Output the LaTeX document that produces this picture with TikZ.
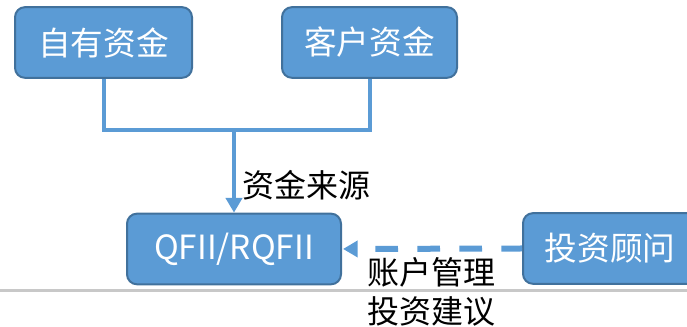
\documentclass[tikz,border=0pt]{standalone}
\usepackage{fontspec}
\setmainfont{Noto Sans CJK SC}
\usetikzlibrary{arrows.meta}
\definecolor{boxfill}{HTML}{5B9BD5}
\definecolor{boxedge}{HTML}{41719C}
\definecolor{rulegray}{HTML}{C8C8C8}
\begin{document}
\begin{tikzpicture}[x=0.75pt,y=-0.75pt,
  box/.style={draw=boxedge, line width=1.5pt, fill=boxfill, rounded corners=7.5pt,
    text=white, font=\fontsize{24.5}{29}\selectfont, inner sep=0pt, minimum height=53pt},
  conn/.style={draw=boxfill, line width=3pt, line join=miter},
  tip/.style={-{Triangle[length=11pt,width=12pt]}},
  lbl/.style={font=\fontsize{24}{29}\selectfont, inner sep=0pt, text=black}]
\useasboundingbox (0,0) rectangle (687,327);
\clip (0,0) rectangle (687,327);
\draw[rulegray, line width=2.25pt] (0,291) -- (687,291);
\node[box, minimum width=132.75pt] (A) at (103.5,42.5) {自有资金};
\node[box, minimum width=131.25pt] (B) at (369.5,42.5) {客户资金};
\node[box, minimum width=160.5pt, font=\fontsize{25}{30}\selectfont] (Q) at (234,249) {QFII/RQFII};
\node[box, minimum width=130.5pt] (V) at (610,248.5) {投资顾问};
\coordinate (J) at (234,130);
\draw[conn] (A.south) |- (J) -| (B.south);
\draw[conn, tip] (J) -- (Q.north);
\draw[draw=boxfill, line width=4.5pt, dash pattern=on 17pt off 14.5pt, dash phase=1.5pt, tip, shorten >=0.75pt] (V.west) -- (Q.east);
\node[lbl, anchor=west] (L1) at (242,185) {资金来源};
\node[lbl] (L2) at (431.5,272) {账户管理};
\node[lbl] (L3) at (431.5,311) {投资建议};
\end{tikzpicture}
\end{document}
